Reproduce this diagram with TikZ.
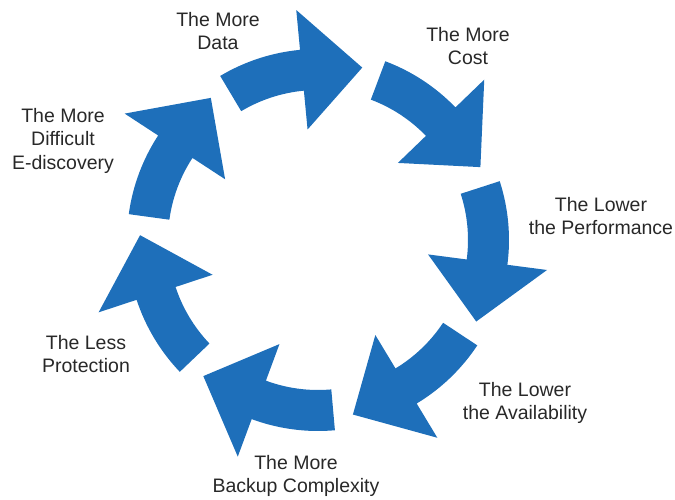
\documentclass[tikz,border=0pt]{standalone}
\usepackage{fontspec}
\setmainfont{Liberation Sans}
\usetikzlibrary{positioning}
\definecolor{cycleblue}{RGB}{30,111,186}
\definecolor{labelgray}{RGB}{40,40,40}

\begin{document}
\begin{tikzpicture}[x=1pt, y=1pt,
    cyclelabel/.style={align=center, inner sep=0pt, anchor=north, text=labelgray,
                       font=\fontsize{19.5}{23.5}\selectfont},
    cyclearrow/.style={fill=cycleblue}]

  \useasboundingbox (0,0) rectangle (675,499);
  \coordinate (C) at (318,259);

  % --- Curved arrows around the ring ---
  \foreach \k in {0,...,6} {
    \pgfmathsetmacro{\tail}{120.8-51.43*\k}
    \pgfmathsetmacro{\head}{\tail-25.4}
    \pgfmathsetmacro{\tip}{\tail-45.2}
    \fill[cyclearrow, shift={(C)}]
      (\tail:191) arc[start angle=\tail, end angle=\head, radius=191pt]
      -- (\head:231) -- (\tip:178) -- (\head:111) -- (\head:150)
      arc[start angle=\head, end angle=\tail, radius=150pt] -- cycle;
  }

  % --- Labels ---
  \node[cyclelabel] (data)       at (218,487) {The More\\Data};
  \node[cyclelabel] (cost)       at (468,472) {The More\\Cost};
  \node[cyclelabel] (perf)       at (601,302) {The Lower\\the Performance};
  \node[cyclelabel] (avail)      at (525,117) {The Lower\\the Availability};
  \node[cyclelabel] (backup)     at (296,44)  {The More\\Backup Complexity};
  \node[cyclelabel] (protect)    at (86,164)  {The Less\\Protection};
  \node[cyclelabel] (ediscovery) at (63,391)  {The More\\Difficult\\E-discovery};

\end{tikzpicture}
\end{document}
